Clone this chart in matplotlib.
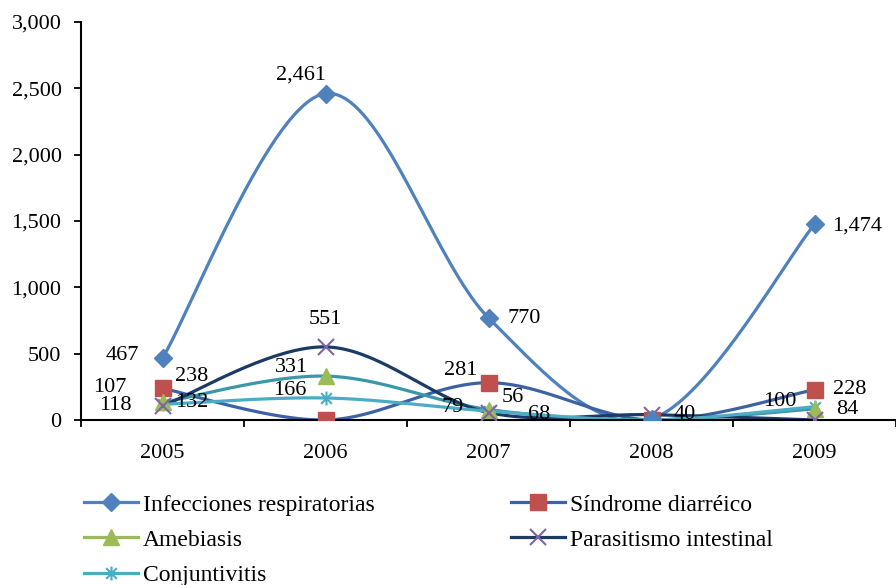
import numpy as np
import matplotlib
matplotlib.use("Agg")
import matplotlib.pyplot as plt
from matplotlib.lines import Line2D
from matplotlib.path import Path

years = ["2005", "2006", "2007", "2008", "2009"]
infecciones = [467, 2461, 770, 10, 1474]
sindrome = [238, 0, 281, 0, 228]
amebiasis = [132, 331, 79, 0, 84]
parasitismo = [107, 551, 56, 40, 0]
conjuntivitis = [118, 166, 68, 0, 100]

names = ["Infecciones respiratorias", "Síndrome diarréico", "Amebiasis",
         "Parasitismo intestinal", "Conjuntivitis"]
series = [infecciones, sindrome, amebiasis, parasitismo, conjuntivitis]

# which points carry a data label
show_label = [
    [True, True, True, False, True],
    [True, False, True, False, True],
    [True, True, True, False, True],
    [True, True, True, True, False],
    [True, True, True, False, True],
]
# label offsets in pixels (layout only)
label_offsets = [
    [(-40, 3), (-25, 18), (36, -1), (0, 0), (43, -2)],
    [(29, 12), (0, 0), (-28, 12), (0, 0), (35, 0)],
    [(29, 0), (-34, 9), (-36, 2), (0, 0), (33, -1)],
    [(-53, 18), (0, 27), (24, 15), (33, 0), (0, 0)],
    [(-47, -1), (-36, 7), (51, -4), (0, 0), (-35, 5)],
]

line_colors = ["#4F81BD", "#3D62A3", "#3A97A8", "#1B3A66", "#4BACC6"]
legend_line_colors = ["#4F81BD", "#3D62A3", "#9BBB59", "#1B3A66", "#4BACC6"]
marker_colors = ["#4F81BD", "#C0504D", "#9BBB59", "#8064A2", "#4BACC6"]

# asterisk marker: x plus vertical bar
ast_verts = [(-1, -1), (1, 1), (-1, 1), (1, -1), (0, -1.3), (0, 1.3)]
ast_codes = [Path.MOVETO, Path.LINETO, Path.MOVETO, Path.LINETO, Path.MOVETO, Path.LINETO]
asterisk = Path(ast_verts, ast_codes)

markers = ["D", "s", "^", "x", asterisk]
msizes = [9, 12, 12, 11, 10]
filled = [True, True, True, False, False]


def smooth(xs, ys, n=40):
    xs = np.asarray(xs, float)
    ys = np.asarray(ys, float)
    P = np.column_stack([xs, ys])
    Pe = np.vstack([P[0], P, P[-1]])
    out = []
    for i in range(len(P) - 1):
        p0, p1, p2, p3 = Pe[i], Pe[i + 1], Pe[i + 2], Pe[i + 3]
        c1 = p1 + (p2 - p0) / 6.0
        c2 = p2 - (p3 - p1) / 6.0
        t = np.linspace(0, 1, n)[:, None]
        seg = ((1 - t) ** 3) * p1 + 3 * ((1 - t) ** 2) * t * c1 + 3 * (1 - t) * t ** 2 * c2 + t ** 3 * p2
        if i > 0:
            seg = seg[1:]
        out.append(seg)
    out = np.vstack(out)
    return out[:, 0], out[:, 1]


plt.rcParams["font.family"] = ["Liberation Serif", "DejaVu Serif"]

fig = plt.figure(figsize=(8.96, 5.85), dpi=100)
ax = fig.add_axes([81 / 896, 1 - 420 / 585, 1 - 81 / 896, (420 - 22) / 585])

x = np.arange(len(years))
draw_order = [1, 4, 2, 3, 0]
for k in draw_order:
    vals = series[k]
    sx, sy = smooth(x, vals)
    ax.plot(sx, sy, color=line_colors[k], lw=2.3, zorder=2 + k * 0.1, solid_capstyle="round")
for k in draw_order:
    vals = series[k]
    if filled[k]:
        ax.plot(x, vals, linestyle="none", marker=markers[k], markersize=msizes[k],
                markerfacecolor=marker_colors[k], markeredgecolor=marker_colors[k], zorder=5)
    else:
        ax.plot(x, vals, linestyle="none", marker=markers[k], markersize=msizes[k],
                color=marker_colors[k], markeredgewidth=1.5, zorder=5)
    for i, v in enumerate(vals):
        if show_label[k][i]:
            dx, dy = label_offsets[k][i]
            ax.annotate(f"{v:,}", (x[i], v), xytext=(dx, dy), textcoords="offset pixels",
                        ha="center", va="center", fontsize=16, color="black", zorder=6)

ax.set_xlim(-0.5, 4.5)
ax.set_ylim(0, 3000)
ax.set_yticks(np.arange(0, 3001, 500))
ax.set_yticklabels([f"{int(v):,}" for v in np.arange(0, 3001, 500)], fontsize=16)
ax.set_xticks(x)
ax.set_xticklabels(years, fontsize=16)
ax.set_xticks(np.arange(-0.5, 4.6, 1.0), minor=True)
ax.tick_params(axis="x", which="major", length=0, pad=17)
ax.tick_params(axis="x", which="minor", length=5, width=1.3, direction="out")
ax.tick_params(axis="y", length=5, width=1.3, direction="out", pad=9)
for s in ["top", "right"]:
    ax.spines[s].set_visible(False)
for s in ["left", "bottom"]:
    ax.spines[s].set_linewidth(1.5)
    ax.spines[s].set_color("black")

def handle(k):
    if filled[k]:
        return Line2D([], [], color=legend_line_colors[k], lw=2.3, marker=markers[k],
                      markersize=msizes[k], markerfacecolor=marker_colors[k],
                      markeredgecolor=marker_colors[k])
    return Line2D([], [], color=legend_line_colors[k], lw=2.3, marker=markers[k],
                  markersize=msizes[k], markeredgecolor=marker_colors[k], markeredgewidth=1.5)

leg_kw = dict(frameon=False, fontsize=17, handlelength=2.3, handletextpad=0.2,
              labelspacing=0.58, borderpad=0, borderaxespad=0, loc="upper left")
fig.legend([handle(0), handle(2), handle(4)], [names[0], names[2], names[4]],
           bbox_to_anchor=(84 / 896, 1 - 494 / 585), **leg_kw)
fig.legend([handle(1), handle(3)], [names[1], names[3]],
           bbox_to_anchor=(511 / 896, 1 - 494 / 585), **leg_kw)

fig.savefig("out.png", dpi=100)
